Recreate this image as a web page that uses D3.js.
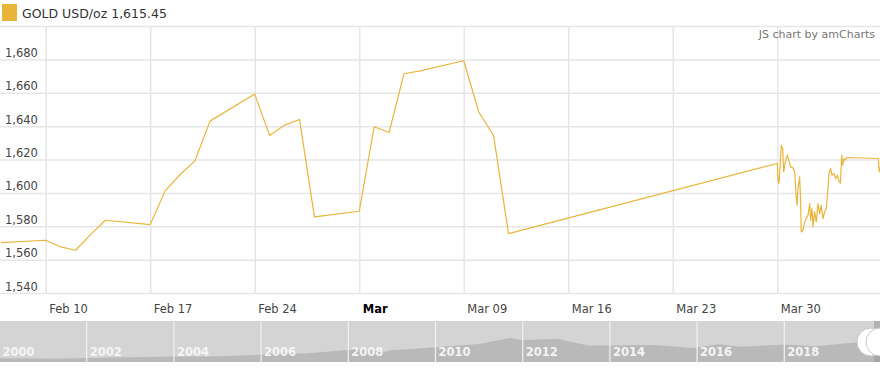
<!DOCTYPE html>
<html>
<head>
<meta charset="utf-8">
<script src="https://cdn.jsdelivr.net/npm/d3@7/dist/d3.min.js"></script>
<style>
  body { margin: 0; background: #fff; }
  svg { display: block; font-family: "DejaVu Sans", Verdana, sans-serif; }
  .grid line { stroke: #e6e6e6; stroke-width: 1.5; }
  .grid path { display: none; }
  .lbl { fill: #444; font-size: 11.5px; }
</style>
</head>
<body>
<div id="chart"></div>
<script>
(function(d3) {
var width = 880, height = 369;
var top = 26, bottom = 293;

// daily closes, then intraday from Mar 30
var dates = ["2020-02-07 00:00","2020-02-10 00:00","2020-02-11 00:00","2020-02-12 00:00","2020-02-13 00:00","2020-02-14 00:00",
  "2020-02-17 00:00","2020-02-18 00:00","2020-02-19 00:00","2020-02-20 00:00","2020-02-21 00:00",
  "2020-02-24 00:00","2020-02-25 00:00","2020-02-26 00:00","2020-02-27 00:00","2020-02-28 00:00",
  "2020-03-02 00:00","2020-03-03 00:00","2020-03-04 00:00","2020-03-05 00:00","2020-03-06 00:00",
  "2020-03-09 00:00","2020-03-10 00:00","2020-03-11 00:00","2020-03-12 00:00",
  "2020-03-30 00:00","2020-03-30 01:00","2020-03-30 02:40","2020-03-30 04:20","2020-03-30 06:25","2020-03-30 08:40",
  "2020-03-30 10:20","2020-03-30 12:55","2020-03-30 16:05","2020-03-30 18:20","2020-03-30 21:30",
  "2020-03-31 01:10","2020-03-31 04:00","2020-03-31 06:00","2020-03-31 07:40","2020-03-31 09:20","2020-03-31 12:00",
  "2020-03-31 13:35","2020-03-31 14:35","2020-03-31 17:20","2020-03-31 20:00","2020-03-31 22:35",
  "2020-04-01 01:25","2020-04-01 04:05","2020-04-01 05:40","2020-04-01 07:50","2020-04-01 09:25","2020-04-01 12:05",
  "2020-04-01 14:40","2020-04-01 17:25","2020-04-01 20:10","2020-04-01 22:40",
  "2020-04-02 01:30","2020-04-02 04:10","2020-04-02 06:50","2020-04-02 09:30","2020-04-02 11:05","2020-04-02 13:50",
  "2020-04-02 15:55","2020-04-02 19:05","2020-04-02 21:55",
  "2020-04-03 00:30","2020-04-03 03:40","2020-04-03 05:35","2020-04-03 07:30","2020-04-03 09:05","2020-04-03 11:10",
  "2020-04-03 12:50","2020-04-03 15:35",
  "2020-04-05 18:25","2020-04-05 20:00","2020-04-05 21:00"];
var prices = [1570.2,1571.6,1567.6,1565.6,1575.0,1583.6,
  1581.0,1601.2,1611.0,1619.2,1643.0,
  1659.2,1634.4,1640.6,1644.0,1585.6,
  1589.0,1639.6,1636.2,1671.4,1673.0,
  1679.2,1648.6,1634.2,1575.6,
  1617.6,1608.6,1605.6,1614.6,1628.6,1626.6,
  1612.6,1618.6,1622.6,1619.6,1615.6,
  1615.0,1612.6,1599.6,1592.6,1602.6,1609.6,
  1594.6,1576.6,1577.6,1582.6,1584.6,
  1586.6,1593.6,1583.6,1590.6,1579.6,1588.6,
  1582.6,1593.6,1587.6,1592.6,
  1584.6,1588.6,1590.6,1602.6,1611.6,1614.6,
  1610.6,1611.6,1608.6,
  1610.6,1606.6,1605.8,1622.6,1616.6,1620.6,
  1619.6,1621.2,
  1620.6,1612.6,1615.45];

var yTicks = [1540,1560,1580,1600,1620,1640,1660,1680,1700];
var yLabels = [1540,1560,1580,1600,1620,1640,1660,1680];
var xTicks = ["2020-02-10","2020-02-17","2020-02-24","2020-03-02","2020-03-09","2020-03-16","2020-03-23","2020-03-30"];

// scrollbar overview (gold price 2000-2020)
var scrollYears = [2000,2001,2001.5,2002,2003,2004,2005,2006,2006.4,2007,2008,2008.2,2008.8,2009,2010,2011,2011.7,
  2012,2012.8,2013,2013.5,2014,2015,2015.9,2016.5,2017,2018,2018.7,2019,2019.7,2020,2020.25];
var scrollPrices = [285,265,270,300,350,410,430,550,700,650,900,980,750,880,1120,1360,1820,
  1650,1750,1600,1250,1240,1280,1060,1340,1150,1330,1200,1290,1500,1520,1620];
var yearLabels = [2000,2002,2004,2006,2008,2010,2012,2014,2016,2018];

var parse = d3.timeParse("%Y-%m-%d %H:%M");
var parseDay = d3.timeParse("%Y-%m-%d");
var data = dates.map(function(d, i) { return {date: parse(d), value: prices[i]}; });

var x = d3.scaleTime()
    .domain([new Date(2020,1,6,22,32), new Date(2020,3,5,21,8)])
    .range([0, width]);
var y = d3.scaleLinear().domain([1540, 1700]).range([bottom, top]);

var svg = d3.select("#chart").append("svg")
    .attr("width", width)
    .attr("height", height);

// horizontal grid + labels
var yAxis = svg.append("g")
    .attr("class", "grid")
    .call(d3.axisLeft(y).tickValues(yTicks).tickSize(-width).tickFormat(function(d) {
      return yLabels.indexOf(d) >= 0 ? d3.format(",")(d) : "";
    }));
yAxis.selectAll("text")
    .attr("class", "lbl")
    .attr("x", 5).attr("dy", -3)
    .style("text-anchor", "start")
    .style("dominant-baseline", "auto")
    .attr("font-size", null).attr("font-family", null);
yAxis.attr("font-size", null).attr("font-family", null);

// vertical grid + date labels
var xAxis = svg.append("g")
    .attr("class", "grid")
    .attr("transform", "translate(0," + bottom + ")")
    .call(d3.axisBottom(x).tickValues(xTicks.map(parseDay)).tickSize(-(bottom - top)).tickFormat(function(d) {
      return d.getDate() <= 7 ? d3.timeFormat("%b")(d) : d3.timeFormat("%b %d")(d);
    }));
xAxis.attr("font-size", null).attr("font-family", null);
xAxis.selectAll("text")
    .attr("class", "lbl")
    .attr("y", 20).attr("dy", 0)
    .attr("dx", 3)
    .style("text-anchor", "start")
    .style("font-weight", function(d) { return d.getDate() <= 7 ? "bold" : null; })
    .style("fill", function(d) { return d.getDate() <= 7 ? "#000" : null; });

// price line
svg.append("clipPath").attr("id", "clip")
  .append("rect").attr("x", 0).attr("y", top).attr("width", width).attr("height", bottom - top);

svg.append("path")
    .datum(data)
    .attr("clip-path", "url(#clip)")
    .attr("fill", "none")
    .attr("stroke", "#e9b53b")
    .attr("stroke-width", 1.2)
    .attr("stroke-linejoin", "round")
    .attr("d", d3.line()
      .x(function(d) { return x(d.date); })
      .y(function(d) { return y(d.value); }));

// legend
svg.append("rect").attr("x", 2).attr("y", 4).attr("width", 15).attr("height", 17).attr("fill", "#e8b53a");
svg.append("text").attr("x", 22).attr("y", 18)
    .attr("font-size", "12.5px").attr("fill", "#333")
    .text("GOLD USD/oz 1,615.45");

svg.append("text").attr("x", 875).attr("y", 38)
    .attr("text-anchor", "end")
    .attr("font-size", "11px").attr("fill", "#777")
    .text("JS chart by amCharts");

// scrollbar
var sTop = 321, sBottom = 362;
var sx = d3.scaleLinear().domain([2000, 2020]).range([-0.5, 871.5]);
var sy = d3.scaleLinear().domain([0, 3100]).range([sBottom, sTop]);

svg.append("rect").attr("x", 0).attr("y", sTop).attr("width", width).attr("height", sBottom - sTop)
    .attr("fill", "#d4d4d4");
svg.append("path")
    .datum(scrollYears.map(function(d, i) { return {t: d, v: scrollPrices[i]}; }))
    .attr("fill", "#b9b9b9")
    .attr("d", d3.area()
      .x(function(d) { return sx(d.t); })
      .y0(sBottom)
      .y1(function(d) { return sy(d.v); }));

svg.selectAll("line.sep")
    .data(yearLabels.slice(1))
    .enter().append("line")
    .attr("class", "sep")
    .attr("x1", function(d) { return sx(d); })
    .attr("x2", function(d) { return sx(d); })
    .attr("y1", sTop).attr("y2", sBottom)
    .attr("stroke", "#f2f2f2").attr("stroke-width", 1.2);

svg.selectAll("text.year")
    .data(yearLabels)
    .enter().append("text")
    .attr("class", "year")
    .attr("x", function(d) { return Math.max(sx(d) + 3, 2); })
    .attr("y", 356)
    .attr("font-size", "11.5px").attr("font-weight", "bold")
    .attr("fill", "#f4f4f4")
    .text(function(d) { return d; });

// selection grips at right end
svg.append("rect").attr("x", 874).attr("y", sTop).attr("width", 6).attr("height", sBottom - sTop)
    .attr("fill", "#9a9a9a").attr("opacity", 0.6);
[871, 880].forEach(function(cx) {
  svg.append("circle").attr("cx", cx).attr("cy", 342).attr("r", 14)
      .attr("fill", "#fff").attr("stroke", "#c8c8c8").attr("stroke-width", 1);
});

})(window.d3);
</script>
</body>
</html>
